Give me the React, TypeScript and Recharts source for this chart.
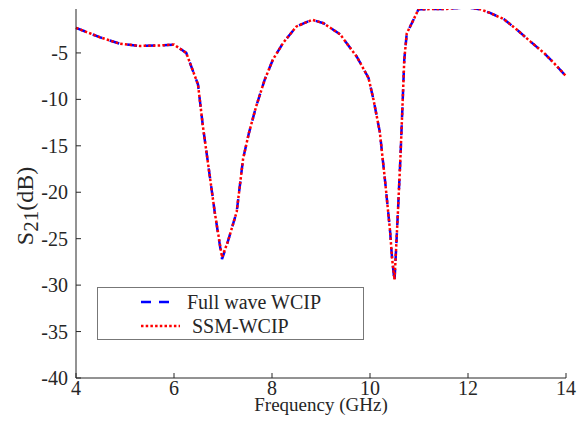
import React from 'react';
import { Line, LineChart, XAxis, YAxis } from 'recharts';

// S21 response (GHz / dB)
const freq = [
  4, 4.48, 4.89, 5.3, 5.7, 6.0, 6.25, 6.49, 6.59, 6.7, 6.83, 6.98, 7.1, 7.28, 7.41, 7.53, 7.68, 7.85,
  8.02, 8.23, 8.5, 8.82, 9.05, 9.39, 9.73, 9.97, 10.07, 10.2, 10.31, 10.41, 10.45, 10.5, 10.53, 10.57,
  10.62, 10.66, 10.7, 10.75, 10.89, 10.99, 11.25, 11.5, 11.8, 12.0, 12.25, 12.46, 12.73, 13.0, 13.27,
  13.55, 13.75, 14,
];
const fullWave = [
  -2.3, -3.3, -4.0, -4.25, -4.2, -4.1, -5.0, -8.4, -12.9, -17.1, -22.1, -27.2, -25.3, -22.1, -16.4,
  -13.6, -10.7, -7.9, -5.7, -3.9, -2.15, -1.43, -1.8, -3.0, -5.4, -7.7, -10.0, -13.5, -18.9, -24.2,
  -27.1, -29.6, -26.4, -22.1, -16.4, -11.1, -5.7, -2.9, -1.4, -0.3, -0.28, -0.28, -0.15, -0.1, -0.3,
  -0.72, -1.36, -2.5, -3.76, -5.0, -6.07, -7.5,
];
const ssm = [
  -2.3, -3.3, -4.0, -4.25, -4.2, -4.1, -5.0, -8.4, -12.9, -17.1, -22.1, -27.0, -25.3, -22.1, -16.4,
  -13.6, -10.7, -7.9, -5.7, -3.9, -2.15, -1.43, -1.8, -3.0, -5.4, -7.7, -10.0, -13.5, -18.9, -24.2,
  -27.1, -29.4, -26.4, -22.1, -16.4, -11.1, -5.7, -2.9, -1.4, -0.3, -0.28, -0.28, -0.15, -0.1, -0.3,
  -0.72, -1.36, -2.5, -3.76, -5.0, -6.07, -7.5,
];
const xTicks = [4, 6, 8, 10, 12, 14];
const yTicks = [-40, -35, -30, -25, -20, -15, -10, -5];

const data = freq.map((f, i) => ({ f, full: fullWave[i], ssm: ssm[i] }));

const FONT = '"Liberation Serif", "Times New Roman", serif';
const AXIS = '#262626';
const BLUE = '#0000ff';
const RED = '#ff0000';

const blank = () => '';

function XTick({ x, y, payload }: any) {
  return (
    <text x={x} y={y + 8} textAnchor="middle" dominantBaseline="hanging" fontFamily={FONT} fontSize={20} fill={AXIS}>
      {payload.value}
    </text>
  );
}

function YTick({ x, y, payload }: any) {
  return (
    <text x={x} y={y} textAnchor="end" dominantBaseline="central" fontFamily={FONT} fontSize={20} fill={AXIS}>
      {payload.value}
    </text>
  );
}

function YLabel() {
  const cx = 25;
  const cy = 206;
  return (
    <text
      x={cx}
      y={cy}
      transform={`rotate(-90 ${cx} ${cy})`}
      textAnchor="middle"
      dominantBaseline="central"
      fontFamily={FONT}
      fontSize={24}
      fill={AXIS}
    >
      S<tspan fontSize={21} dy={6}>21</tspan>
      <tspan dy={-6}>(dB)</tspan>
    </text>
  );
}

function LegendBox() {
  const rows = [
    { label: 'Full wave WCIP', color: BLUE, dash: '10 8', x2: 35, tx: 46 },
    { label: 'SSM-WCIP', color: RED, dash: '2.5 2.2', x2: 39, tx: 51 },
  ];
  return (
    <div
      style={{
        position: 'absolute',
        left: 97,
        top: 287,
        width: 267,
        height: 53,
        boxSizing: 'border-box',
        border: '1.5px solid #777',
        background: '#fff',
      }}
    >
      {rows.map((r, i) => (
        <div key={r.label} style={{ position: 'absolute', left: 43, top: 3 + i * 24, height: 22 }}>
          <svg width={45} height={22} style={{ position: 'absolute', left: 0, top: 0 }}>
            <line x1={0} y1={11} x2={r.x2} y2={11} stroke={r.color} strokeWidth={2.5} strokeDasharray={r.dash} />
          </svg>
          <span
            style={{
              position: 'absolute',
              left: r.tx,
              top: 0,
              whiteSpace: 'nowrap',
              fontFamily: FONT,
              fontSize: 20,
              lineHeight: '22px',
              color: AXIS,
            }}
          >
            {r.label}
          </span>
        </div>
      ))}
    </div>
  );
}

export default function App() {
  return (
    <div style={{ position: 'absolute', left: 0, top: 0, width: 581, height: 426, background: '#fff' }}>
      <LineChart
        width={581}
        height={426}
        data={data}
        margin={{ top: 9, right: 15, left: 0, bottom: 0 }}
        style={{ fontFamily: FONT }}
      >
        <XAxis
          xAxisId="b"
          dataKey="f"
          type="number"
          domain={[4, 14]}
          ticks={xTicks}
          height={48}
          stroke={AXIS}
          tick={<XTick />}
          tickSize={-5}
          tickMargin={0}
          label={{ value: 'Frequency (GHz)', position: 'insideBottom', offset: 15, fontSize: 19, fontFamily: FONT, fill: AXIS }}
        />
        <XAxis
          xAxisId="t"
          orientation="top"
          dataKey="f"
          type="number"
          domain={[4, 14]}
          ticks={xTicks}
          height={0}
          stroke={AXIS}
          tickSize={-5}
          tickFormatter={blank}
        />
        <YAxis
          yAxisId="l"
          type="number"
          domain={[-40, -0.27]}
          allowDataOverflow
          ticks={yTicks}
          width={76}
          stroke={AXIS}
          tick={<YTick />}
          tickSize={-5}
          tickMargin={13}
          label={<YLabel />}
        />
        <YAxis
          yAxisId="r"
          orientation="right"
          type="number"
          domain={[-40, -0.27]}
          allowDataOverflow
          ticks={yTicks}
          width={0}
          stroke={AXIS}
          tickSize={-5}
          tickFormatter={blank}
        />
        <Line
          xAxisId="b"
          yAxisId="l"
          type="linear"
          dataKey="full"
          stroke={BLUE}
          strokeWidth={2.5}
          strokeDasharray="10 8"
          dot={false}
          isAnimationActive={false}
        />
        <Line
          xAxisId="b"
          yAxisId="l"
          type="linear"
          dataKey="ssm"
          stroke={RED}
          strokeWidth={2.5}
          strokeDasharray="2.5 2.2"
          dot={false}
          isAnimationActive={false}
        />
      </LineChart>
      <LegendBox />
    </div>
  );
}
